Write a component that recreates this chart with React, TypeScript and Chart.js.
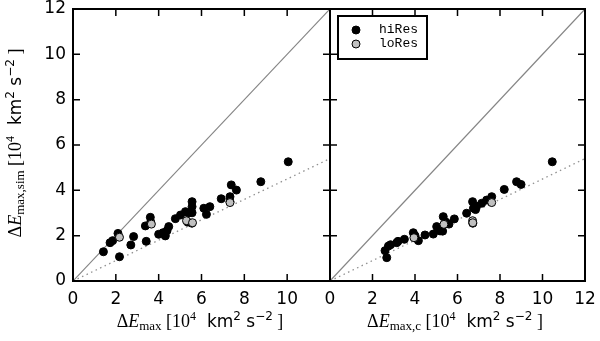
import React, { useEffect, useRef } from 'react';
import { Chart, registerables } from 'chart.js';

Chart.register(...registerables);

// ---------- data ----------
const tickValues = [0, 2, 4, 6, 8, 10, 12];

const leftHiX = [1.42, 1.73, 1.85, 2.1, 2.17, 2.7, 2.83, 3.42, 3.38, 3.61, 3.63, 4.0, 4.2, 4.31, 4.39, 4.47, 4.78, 5.02, 5.25, 5.4, 5.56, 5.56, 5.56, 5.35, 5.55, 6.11, 6.23, 6.39, 6.92, 7.33, 7.39, 7.63, 7.33, 8.77, 10.05];
const leftHiY = [1.29, 1.69, 1.78, 2.1, 1.07, 1.59, 1.96, 1.75, 2.43, 2.81, 2.6, 2.06, 2.13, 1.99, 2.22, 2.4, 2.75, 2.91, 3.06, 3.0, 3.5, 3.28, 3.01, 2.6, 2.55, 3.21, 2.94, 3.28, 3.63, 3.72, 4.24, 4.01, 3.5, 4.38, 5.26];
const leftLoX = [2.17, 3.66, 5.3, 5.58, 7.33];
const leftLoY = [1.93, 2.51, 2.66, 2.57, 3.46];

const rightHiX = [2.67, 2.59, 2.75, 2.85, 3.14, 3.2, 3.5, 3.92, 4.0, 4.16, 4.47, 4.86, 5.02, 5.1, 5.18, 5.3, 5.33, 5.45, 5.6, 5.85, 6.43, 6.71, 6.75, 6.85, 6.72, 6.9, 7.14, 7.37, 7.61, 8.2, 8.78, 8.99, 10.46];
const rightHiY = [1.03, 1.34, 1.54, 1.6, 1.69, 1.75, 1.84, 2.13, 2.0, 1.78, 2.03, 2.07, 2.4, 2.3, 2.21, 2.2, 2.84, 2.6, 2.51, 2.74, 2.99, 3.5, 3.21, 3.15, 2.55, 3.3, 3.43, 3.57, 3.72, 4.04, 4.38, 4.26, 5.26];
const rightLoX = [3.95, 5.36, 6.71, 6.72, 7.61];
const rightLoY = [1.91, 2.5, 2.66, 2.57, 3.46];

const oneToOneX = [0, 12];
const oneToOneY = [0, 12];
const fitX = [0, 12];
const fitY = [0, 5.4];

const legendLabels = ['hiRes', 'loRes'];

// ---------- helpers ----------
const SERIF = '"Liberation Serif", "DejaVu Serif", serif';
const SANS = '"DejaVu Sans", sans-serif';
const MONO = '"Liberation Mono", "DejaVu Sans Mono", monospace';

type Seg = { t: string; f: string; dy?: number };

function zip(xs: number[], ys: number[]) {
  return xs.map((x, i) => ({ x, y: ys[i] }));
}

function titleSegs(sub: string): Seg[] {
  return [
    { t: 'Δ', f: `18px ${SERIF}` },
    { t: 'E', f: `italic 18px ${SERIF}` },
    { t: sub, f: `13px ${SERIF}`, dy: 3 },
    { t: ' [10', f: `18px ${SERIF}` },
    { t: '4', f: `12px ${SERIF}`, dy: -7 },
    { t: '  km', f: `17px ${SANS}` },
    { t: '2', f: `12px ${SANS}`, dy: -7 },
    { t: ' s', f: `17px ${SANS}` },
    { t: '−2', f: `12px ${SANS}`, dy: -7 },
    { t: ' ]', f: `18px ${SERIF}` },
  ];
}

function drawRich(ctx: CanvasRenderingContext2D, segs: Seg[], cx: number, baseline: number) {
  ctx.save();
  let total = 0;
  for (const s of segs) {
    ctx.font = s.f;
    total += ctx.measureText(s.t).width;
  }
  let x = cx - total / 2;
  ctx.textBaseline = 'alphabetic';
  ctx.textAlign = 'left';
  ctx.fillStyle = '#000';
  for (const s of segs) {
    ctx.font = s.f;
    ctx.fillText(s.t, x, baseline + (s.dy || 0));
    x += ctx.measureText(s.t).width;
  }
  ctx.restore();
}

function makeFramePlugin(cfg: { xSub: string; xCenter: number; ySub?: string; legend?: boolean }) {
  return {
    id: 'frame',
    afterDatasetsDraw(chart: any) {
      const { ctx, chartArea: a, scales } = chart;
      const xs = scales.x;
      const ys = scales.y;
      ctx.save();
      ctx.strokeStyle = '#000';
      ctx.lineWidth = 1.5;
      const L = 7;
      ctx.beginPath();
      for (const v of tickValues) {
        const px = xs.getPixelForValue(v);
        ctx.moveTo(px, a.bottom);
        ctx.lineTo(px, a.bottom - L);
        ctx.moveTo(px, a.top);
        ctx.lineTo(px, a.top + L);
        const py = ys.getPixelForValue(v);
        ctx.moveTo(a.left, py);
        ctx.lineTo(a.left + L, py);
        ctx.moveTo(a.right, py);
        ctx.lineTo(a.right - L, py);
      }
      ctx.stroke();
      ctx.lineWidth = 2;
      ctx.strokeRect(a.left, a.top, a.right - a.left, a.bottom - a.top);

      if (cfg.legend) {
        const bx = a.left + 8, by = a.top + 7, bw = 89, bh = 43;
        ctx.fillStyle = '#fff';
        ctx.fillRect(bx, by, bw, bh);
        ctx.lineWidth = 2;
        ctx.strokeStyle = '#000';
        ctx.strokeRect(bx, by, bw, bh);
        const fills = ['#000', '#c0c0c0'];
        legendLabels.forEach((lab, i) => {
          const cy = a.top + 21 + i * 14;
          ctx.beginPath();
          ctx.arc(a.left + 26, cy, 4, 0, Math.PI * 2);
          ctx.fillStyle = fills[i];
          ctx.fill();
          ctx.lineWidth = 1;
          ctx.strokeStyle = '#000';
          ctx.stroke();
          ctx.fillStyle = '#000';
          ctx.font = `13px ${MONO}`;
          ctx.textBaseline = 'middle';
          ctx.textAlign = 'left';
          ctx.fillText(lab, a.left + 49, cy);
        });
      }
      ctx.restore();

      drawRich(ctx, titleSegs(cfg.xSub), cfg.xCenter, 327);
      if (cfg.ySub) {
        ctx.save();
        ctx.translate(21, 143);
        ctx.rotate(-Math.PI / 2);
        drawRich(ctx, titleSegs(cfg.ySub), 0, 0);
        ctx.restore();
      }
    },
  };
}

function makeConfig(
  hiX: number[], hiY: number[], loX: number[], loY: number[],
  isLeft: boolean, pad: any, plugin: any,
): any {
  return {
    type: 'scatter',
    data: {
      datasets: [
        { label: 'loRes', data: zip(loX, loY), backgroundColor: '#c0c0c0', borderColor: '#000', borderWidth: 1, pointRadius: 4, order: 0 },
        { label: 'hiRes', data: zip(hiX, hiY), backgroundColor: '#000', borderColor: '#000', borderWidth: 1, pointRadius: 4, order: 1 },
        { label: 'one', data: zip(oneToOneX, oneToOneY), showLine: true, borderColor: '#858585', borderWidth: 1.2, pointRadius: 0, order: 2 },
        { label: 'fit', data: zip(fitX, fitY), showLine: true, borderColor: '#909090', borderWidth: 1.3, borderDash: [1.5, 3.5], pointRadius: 0, order: 3 },
      ],
    },
    options: {
      responsive: false,
      animation: false,
      events: [],
      layout: { padding: pad },
      plugins: { legend: { display: false }, tooltip: { enabled: false } },
      scales: {
        x: {
          type: 'linear', min: 0, max: 12,
          grid: { display: false, drawTicks: false },
          border: { display: false },
          ticks: {
            stepSize: 2, autoSkip: false, maxRotation: 0, color: '#000', padding: 8,
            font: { size: 17, family: 'DejaVu Sans' },
            callback: (v: number) => (isLeft && v === 12 ? '' : String(v)),
          },
          afterFit: (s: any) => { s.height = 60; },
        },
        y: {
          type: 'linear', min: 0, max: 12, display: isLeft,
          grid: { display: false, drawTicks: false },
          border: { display: false },
          ticks: {
            stepSize: 2, autoSkip: false, color: '#000', padding: 7,
            font: { size: 17, family: 'DejaVu Sans', lineHeight: 0.1 },
          },
          afterFit: (s: any) => { s.width = isLeft ? 73 : 0; },
        },
      },
    },
    plugins: [plugin],
  };
}

export default function App() {
  const leftRef = useRef<HTMLCanvasElement>(null);
  const rightRef = useRef<HTMLCanvasElement>(null);

  useEffect(() => {
    const c1 = new Chart(leftRef.current as HTMLCanvasElement, makeConfig(
      leftHiX, leftHiY, leftLoX, leftLoY, true,
      { left: 0, right: 10, top: 9, bottom: 0 },
      makeFramePlugin({ xSub: 'max', xCenter: 200, ySub: 'max,sim' }),
    ));
    const c2 = new Chart(rightRef.current as HTMLCanvasElement, makeConfig(
      rightHiX, rightHiY, rightLoX, rightLoY, false,
      { left: 30, right: 20, top: 9, bottom: 0 },
      makeFramePlugin({ xSub: 'max,c', xCenter: 155, legend: true }),
    ));
    return () => { c1.destroy(); c2.destroy(); };
  }, []);

  return (
    <div style={{ position: 'fixed', left: 0, top: 0, width: 600, height: 341, background: '#fff' }}>
      <canvas ref={leftRef} width={340} height={341} style={{ position: 'absolute', left: 0, top: 0 }} />
      <canvas ref={rightRef} width={305} height={341} style={{ position: 'absolute', left: 300, top: 0 }} />
    </div>
  );
}
